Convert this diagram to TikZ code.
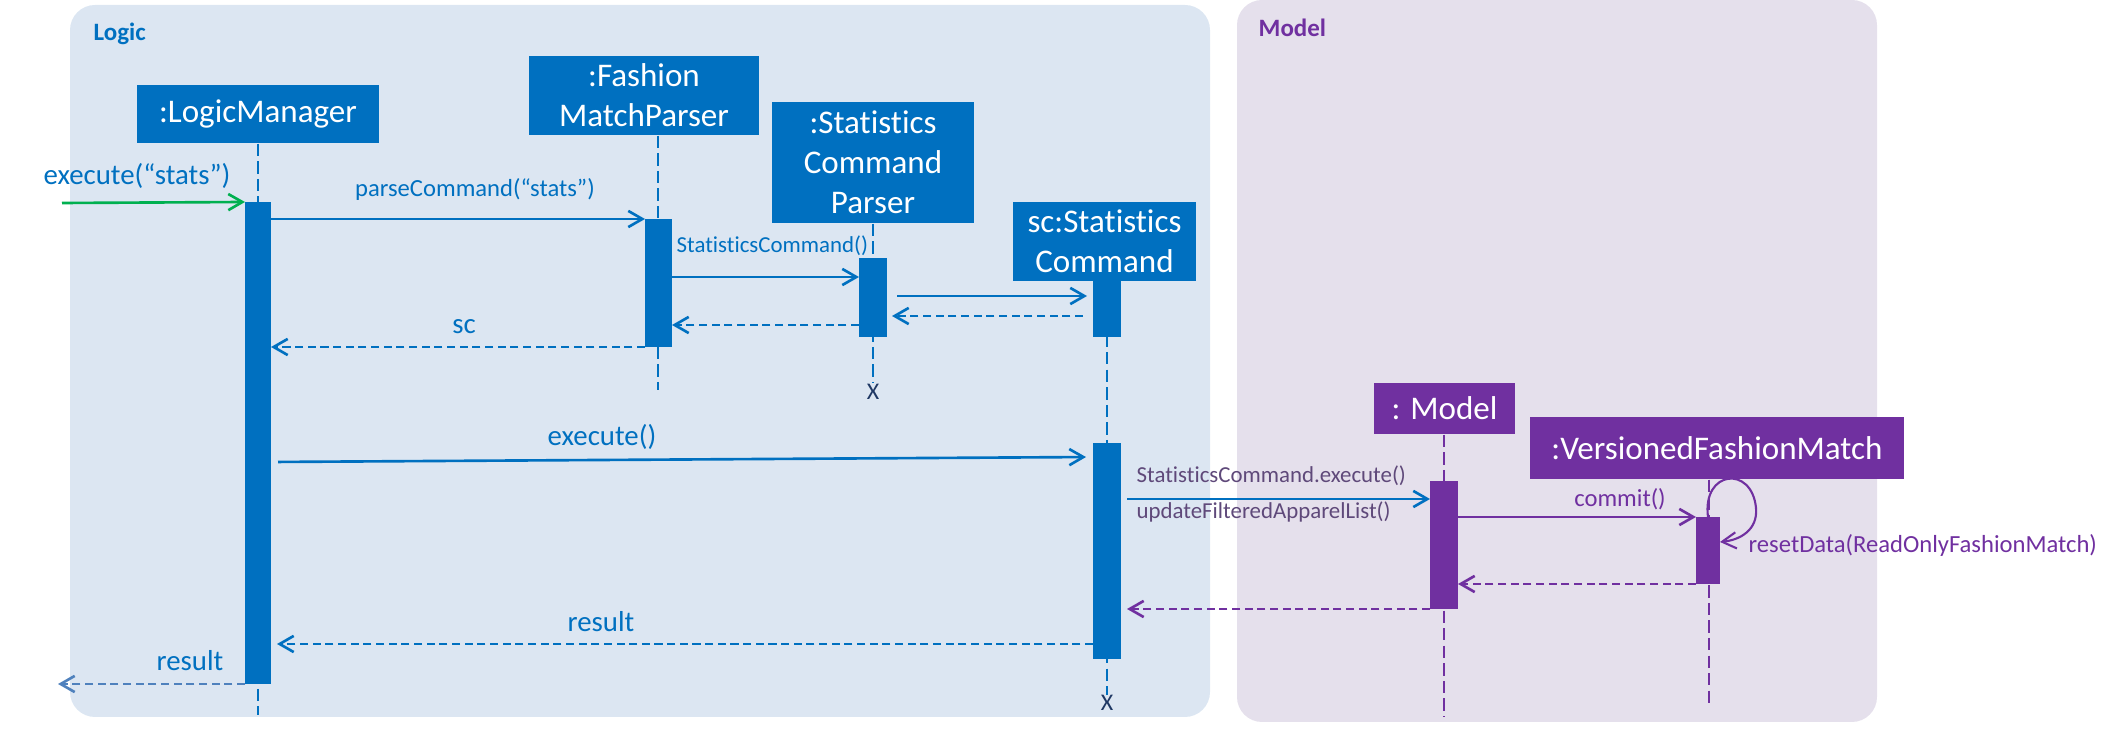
\documentclass[tikz,border=0pt]{standalone}
\usepackage{fontspec}
\setmainfont{Carlito}[Ligatures={TeX,NoCommon}]
\usepackage{tikz}
\usetikzlibrary{positioning,arrows.meta,fit}
\usepackage{xcolor}

\definecolor{logicblue}{HTML}{0070C0}
\definecolor{modelpurple}{HTML}{7030A0}
\definecolor{logicbg}{HTML}{DCE6F2}
\definecolor{modelbg}{HTML}{E5E0EC}
\definecolor{callgreen}{HTML}{00B050}
\definecolor{retblue}{HTML}{4F81BD}
\definecolor{notepurple}{HTML}{5F497A}
\definecolor{endnavy}{HTML}{1F3864}

\tikzset{
  obj/.style={fill=#1, text=white, inner sep=0pt, align=center,
    font=\fontsize{9.4}{11.4}\selectfont},
  actbar/.style={fill=#1, draw=none, inner sep=0pt, outer sep=0pt},
  life/.style={draw=#1, line width=0.6pt, dash pattern=on 3.5pt off 1.5pt},
  msg/.style={draw=#1, line width=0.75pt, -{Straight Barb[length=4pt,width=4.6pt]}},
  ret/.style={msg=#1, dash pattern=on 2.3pt off 1.3pt},
  lblbig/.style={font=\fontsize{8.2}{10}\selectfont, inner sep=0pt},
  lblmid/.style={font=\fontsize{7}{8.5}\selectfont, inner sep=0pt},
  lblsmall/.style={font=\fontsize{6.5}{8}\selectfont, inner sep=0pt},
}

\begin{document}
\begin{tikzpicture}[x=0.01cm, y=-0.01cm]
                \useasboundingbox (0,0) rectangle (2117,731);

                % Panels
                \fill[logicbg, rounded corners=0.25cm] (70,5) rectangle (1210,717);
                \fill[modelbg, rounded corners=0.25cm] (1237,0) rectangle (1877,722);
                \node[anchor=base west, inner sep=0pt, text=logicblue, font=\bfseries\fontsize{7.1}{8}\selectfont] (logiclbl) at (93,41) {Logic};
                \node[anchor=base west, inner sep=0pt, text=modelpurple, font=\bfseries\fontsize{7.1}{8}\selectfont] (modellbl) at (1258,37) {Model};

                % Objects
                \node[obj=logicblue, minimum width=2.42cm, minimum height=0.58cm] (lm) at (258,114) {:LogicManager};
                \node[obj=logicblue, minimum width=2.30cm, minimum height=0.79cm] (fmp) at (644,95.5) {:Fashion\\MatchParser};
                \node[obj=logicblue, minimum width=2.02cm, minimum height=1.21cm] (scp) at (873,162.5) {:Statistics\\Command\\Parser};
                \node[obj=logicblue, minimum width=1.83cm, minimum height=0.79cm] (sc) at (1104.5,241.5) {sc:Statistics\\Command};
                \node[obj=modelpurple, minimum width=1.41cm, minimum height=0.51cm] (model) at (1444.5,408.5) {: Model};
                \node[obj=modelpurple, minimum width=3.74cm, minimum height=0.62cm] (vfm) at (1717,448) {:VersionedFashionMatch};

                % Lifelines
                \coordinate (lmend) at (258,715);
                \coordinate (fmpend) at (658,390);
                \coordinate (scpend) at (873,383);
                \coordinate (scend) at (1107,695);
                \coordinate (modelend) at (1444,717);
                \coordinate (vfmend) at (1709,708);
                \draw[life=logicblue] (lm.south -| lmend) -- (lmend);
                \draw[life=logicblue] (fmp.south -| fmpend) -- (fmpend);
                \draw[life=logicblue] (scp.south -| scpend) -- (scpend);
                \draw[life=logicblue] (sc.south -| scend) -- (scend);
                \draw[life=modelpurple] (model.south -| modelend) -- (modelend);
                \draw[life=modelpurple] (vfm.south -| vfmend) -- (vfmend);
                \node[inner sep=0pt, text=endnavy, font=\fontsize{6.8}{8}\selectfont] (scpx) at (873,391.5) {X};
                \node[inner sep=0pt, text=endnavy, font=\fontsize{6.8}{8}\selectfont] (scx) at (1107,702.5) {X};

                % Activation bars
                \node[actbar=logicblue, fit={(245,202) (271,684)}] (lmbar) {};
                \node[actbar=logicblue, fit={(645,219) (672,347)}] (fmpbar) {};
                \node[actbar=logicblue, fit={(859,258) (887,337)}] (scpbar) {};
                \node[actbar=logicblue, fit={(1093,281) (1121,337)}] (scbarA) {};
                \node[actbar=logicblue, fit={(1093,443) (1121,659)}] (scbarB) {};
                \node[actbar=modelpurple, fit={(1430,481) (1458,609)}] (modelbar) {};
                \node[actbar=modelpurple, fit={(1696,517) (1720,584)}] (vfmbar) {};

                % Message rows
                \coordinate (src) at (62,203);
                \coordinate (r3) at (0,277);
                \coordinate (r4) at (0,296);
                \coordinate (r5) at (0,316);
                \coordinate (r6) at (0,325);
                \coordinate (r7) at (0,462);
                \coordinate (r7b) at (0,457);
                \coordinate (r8) at (0,499);
                \coordinate (r10) at (0,542);
                \coordinate (r13) at (0,644);
                \coordinate (outend) at (58,684);

                % Parsing
                \draw[msg=callgreen] (src) -- (lmbar.north west);
                \node[lblbig, text=logicblue, anchor=base] (l1) at (137,185) {execute(“stats”)};
                \draw[msg=logicblue] (lmbar.east |- fmpbar.north) -- (fmpbar.north west);
                \node[lblmid, text=logicblue, anchor=base] (l2) at (475,197) {parseCommand(“stats”)};
                \draw[msg=logicblue] (fmpbar.east |- r3) -- (scpbar.west |- r3);
                \node[lblsmall, text=logicblue, anchor=base west] (l3) at (676,253) {StatisticsCommand()};
                \draw[msg=logicblue, shorten <=0.1cm, shorten >=0.06cm] (scpbar.east |- r4) -- (scbarA.west |- r4);
                \draw[ret=logicblue, shorten <=0.1cm, shorten >=0.05cm] (scbarA.west |- r5) -- (scpbar.east |- r5);
                \draw[ret=logicblue] (scpbar.west |- r6) -- (fmpbar.east |- r6);
                \draw[ret=logicblue] (fmpbar.south west) -- (lmbar.east |- fmpbar.south);
                \node[lblbig, text=logicblue, anchor=base] (l4) at (464,334) {sc};

                % Execution
                \draw[msg=logicblue, shorten <=0.07cm, shorten >=0.07cm] (lmbar.east |- r7) -- (scbarB.west |- r7b);
                \node[lblbig, text=logicblue, anchor=base] (l5) at (602,446) {execute()};
                \draw[msg=logicblue, shorten <=0.06cm] (scbarB.east |- r8) -- (modelbar.west |- r8);
                \node[lblsmall, text=notepurple, anchor=base west] (l6) at (1136,483) {StatisticsCommand.execute()};
                \node[lblsmall, text=notepurple, anchor=base west] (l7) at (1136,519) {updateFilteredApparelList()};
                \draw[msg=modelpurple] (modelbar.east |- vfmbar.north) -- (vfmbar.north west);
                \node[lblmid, text=modelpurple, anchor=base] (l8) at (1620,507) {commit()};
                \draw[modelpurple, line width=0.6pt, -{Straight Barb[length=4pt,width=4.6pt]}]
                  (vfmbar.north) .. controls (1702,470) and (1752,465) .. (1756,508)
                  .. controls (1758,530) and (1740,540) .. (vfmbar.east |- r10);
                \node[lblmid, text=modelpurple, anchor=base west] (l9) at (1748,553) {resetData(ReadOnlyFashionMatch)};

                % Returns
                \draw[ret=modelpurple] (vfmbar.south west) -- (modelbar.east |- vfmbar.south);
                \draw[ret=modelpurple, shorten >=0.06cm] (modelbar.south west) -- (scbarB.east |- modelbar.south);
                \draw[ret=logicblue, shorten >=0.06cm] (scbarB.west |- r13) -- (lmbar.east |- r13);
                \node[lblbig, text=logicblue, anchor=base] (l10) at (601,632) {result};
                \draw[ret=retblue] (lmbar.south west) -- (outend);
                \node[lblbig, text=logicblue, anchor=base] (l11) at (190,671) {result};
            \end{tikzpicture}
\end{document}
